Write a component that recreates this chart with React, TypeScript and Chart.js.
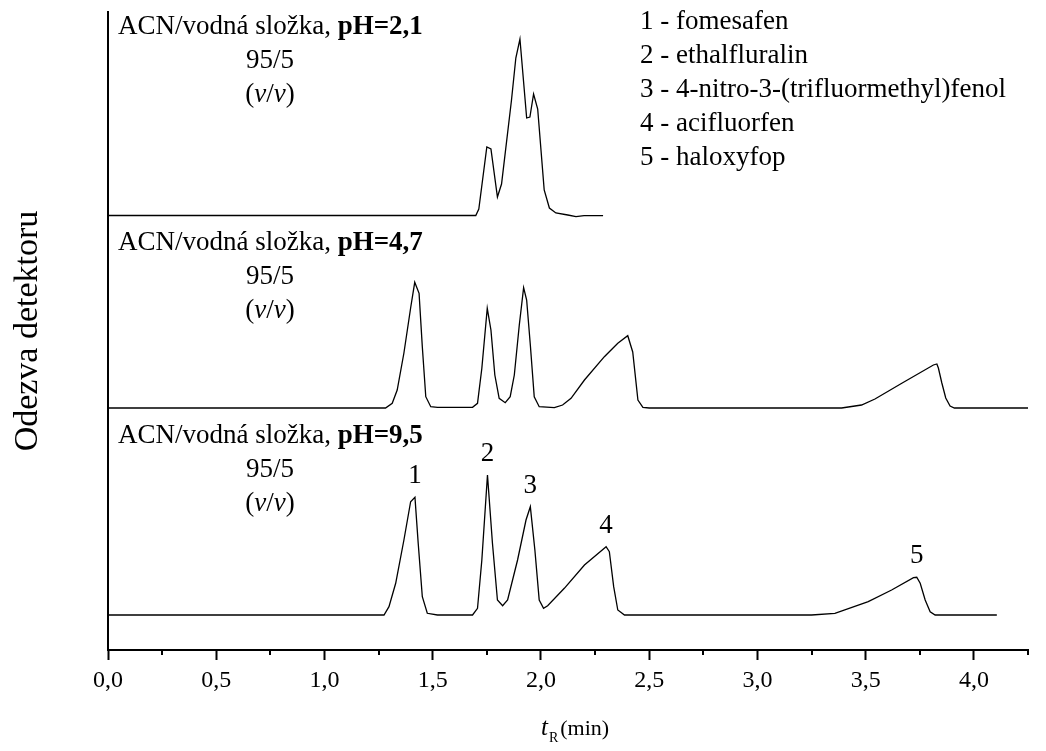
import React, { useEffect, useRef } from "react";
import { Chart, registerables } from "chart.js";

Chart.register(...registerables);

// Retention time (min) and detector response (arbitrary units, stacked traces)
const ph21Time = [0, 1.699, 1.713, 1.75, 1.769, 1.799, 1.818, 1.864, 1.884, 1.903, 1.934, 1.949, 1.966, 1.985, 2.015, 2.039, 2.069, 2.124, 2.162, 2.199, 2.287];
const ph21Signal = [434.5, 434.5, 441, 503, 501, 453, 466, 550, 592, 611, 532, 533, 556, 541, 460, 442, 437, 435, 433.3, 434.3, 434.3];

const ph47Time = [0, 1.282, 1.313, 1.336, 1.367, 1.398, 1.417, 1.437, 1.452, 1.468, 1.491, 1.522, 1.684, 1.707, 1.727, 1.752, 1.769, 1.787, 1.807, 1.835, 1.858, 1.877, 1.9, 1.92, 1.934, 1.951, 1.969, 1.992, 2.062, 2.1, 2.139, 2.201, 2.293, 2.355, 2.401, 2.424, 2.448, 2.471, 2.5, 3.389, 3.481, 3.543, 3.667, 3.813, 3.829, 3.836, 3.852, 3.87, 3.89, 3.91, 4.26];
const ph47Signal = [242, 242, 246.7, 260, 297, 342, 367.7, 356.7, 303.3, 253.3, 243.3, 242.7, 242.7, 246.7, 281.7, 341.7, 320, 275, 251.7, 247.3, 253.3, 275, 325, 362.3, 350, 305, 253.3, 243.3, 242.3, 245, 251.7, 270, 293.3, 306.7, 314.3, 298, 250, 242.7, 242, 242, 245, 251, 266.7, 285, 286, 282, 267, 252, 244, 242, 242];

const ph95Time = [0, 1.275, 1.298, 1.329, 1.367, 1.398, 1.418, 1.433, 1.452, 1.475, 1.522, 1.684, 1.707, 1.727, 1.753, 1.776, 1.799, 1.823, 1.846, 1.892, 1.931, 1.951, 1.972, 1.992, 2.012, 2.031, 2.108, 2.201, 2.301, 2.316, 2.336, 2.355, 2.386, 3.25, 3.358, 3.512, 3.62, 3.721, 3.736, 3.752, 3.775, 3.798, 3.821, 4.106];
const ph95Signal = [35, 35, 43.3, 66.7, 110, 148.3, 152.7, 106.7, 53.3, 36.7, 35, 35, 41.7, 90, 175, 106.7, 50, 44.3, 50, 90, 130, 143.3, 100, 50, 41.7, 44.3, 61.7, 85, 103.3, 98.3, 63.3, 40, 35, 35, 36.7, 48.3, 60, 72.3, 72.7, 66.7, 50, 38.3, 35, 35];

const peakNumbers = ["1", "2", "3", "4", "5"];
const peakTimes = [1.418, 1.753, 1.951, 2.301, 3.736];
const compounds = ["fomesafen", "ethalfluralin", "4-nitro-3-(trifluormethyl)fenol", "acifluorfen", "haloxyfop"];
const conditions = ["pH=2,1", "pH=4,7", "pH=9,5"];
const mobilePhase = "ACN/vodná složka, ";
const ratio = "95/5";

const SERIF = "'Liberation Serif', 'Times New Roman', serif";

type Seg = { t: string; f: string };

function drawRuns(ctx: CanvasRenderingContext2D, segs: Seg[], x: number, y: number, align: "left" | "center") {
  let total = 0;
  for (const s of segs) {
    ctx.font = s.f;
    total += ctx.measureText(s.t).width;
  }
  let cx = align === "center" ? x - total / 2 : x;
  ctx.textAlign = "left";
  for (const s of segs) {
    ctx.font = s.f;
    ctx.fillText(s.t, cx, y);
    cx += ctx.measureText(s.t).width;
  }
}

const textPlugin = {
  id: "textPlugin",
  afterDraw(chart: any) {
    const ctx: CanvasRenderingContext2D = chart.ctx;
    const xs = chart.scales.x;
    const ys = chart.scales.y;
    const reg = `27px ${SERIF}`;
    const bold = `bold 27px ${SERIF}`;
    const ital = `italic 27px ${SERIF}`;
    ctx.save();
    ctx.fillStyle = "#000";
    ctx.strokeStyle = "#000";
    ctx.textBaseline = "middle";

    // minor ticks
    ctx.lineWidth = 2;
    const yb = chart.chartArea.bottom;
    for (let v = 0.25; v <= 4.26; v += 0.5) {
      const px = Math.round(xs.getPixelForValue(v));
      ctx.beginPath();
      ctx.moveTo(px, yb);
      ctx.lineTo(px, yb + 5);
      ctx.stroke();
    }

    // condition blocks
    const blockY = [27, 243, 436];
    conditions.forEach((c, i) => {
      const y0 = blockY[i];
      drawRuns(ctx, [{ t: mobilePhase, f: reg }, { t: c, f: bold }], 118, y0, "left");
      drawRuns(ctx, [{ t: ratio, f: reg }], 270, y0 + 34, "center");
      drawRuns(
        ctx,
        [
          { t: "(", f: reg },
          { t: "v", f: ital },
          { t: "/", f: reg },
          { t: "v", f: ital },
          { t: ")", f: reg },
        ],
        270,
        y0 + 68,
        "center"
      );
    });

    // legend list
    compounds.forEach((c, i) => {
      drawRuns(ctx, [{ t: `${i + 1} - ${c}`, f: reg }], 640, 22 + i * 34, "left");
    });

    // peak numbers above pH 9,5 trace
    peakTimes.forEach((t, i) => {
      const idx = ph95Time.indexOf(t);
      const v = ph95Signal[idx];
      const px = xs.getPixelForValue(t);
      const py = ys.getPixelForValue(v) - 21;
      drawRuns(ctx, [{ t: peakNumbers[i], f: reg }], px, py, "center");
    });

    // x axis title
    ctx.textBaseline = "alphabetic";
    const tx = 541;
    const ty = 735;
    ctx.font = `italic 25px ${SERIF}`;
    ctx.fillText("t", tx, ty);
    const tw = ctx.measureText("t").width;
    ctx.font = `14px ${SERIF}`;
    ctx.fillText("R", tx + tw + 1, ty + 7);
    const rw = ctx.measureText("R").width;
    ctx.font = `22px ${SERIF}`;
    ctx.fillText("(min)", tx + tw + rw + 3, ty);
    ctx.restore();
  },
};

export default function App() {
  const ref = useRef<HTMLCanvasElement | null>(null);
  useEffect(() => {
    if (!ref.current) return;
    const mk = (t: number[], s: number[]) => t.map((x, i) => ({ x, y: s[i] }));
    const line = { borderColor: "#000", borderWidth: 1.3, pointRadius: 0, tension: 0, fill: false };
    const chart = new Chart(ref.current, {
      type: "line",
      data: {
        datasets: [
          { label: conditions[0], data: mk(ph21Time, ph21Signal), ...line },
          { label: conditions[1], data: mk(ph47Time, ph47Signal), ...line },
          { label: conditions[2], data: mk(ph95Time, ph95Signal), ...line },
        ],
      },
      options: {
        animation: false,
        responsive: false,
        layout: { padding: { top: 12, right: 18, left: 0, bottom: 0 } },
        plugins: { legend: { display: false }, tooltip: { enabled: false } },
        scales: {
          x: {
            type: "linear",
            min: 0,
            max: 4.25,
            afterFit: (s: any) => {
              s.height = 101;
            },
            ticks: {
              stepSize: 0.25,
              autoSkip: false,
              maxRotation: 0,
              color: "#000",
              padding: 6,
              font: { family: SERIF, size: 24 },
              callback: (v: any) => {
                const n = Number(v);
                return Math.abs(n * 2 - Math.round(n * 2)) < 1e-6 ? n.toFixed(1).replace(".", ",") : "";
              },
            },
            grid: {
              drawOnChartArea: false,
              drawTicks: true,
              tickLength: 10,
              tickWidth: 2,
              tickColor: (c: any) => {
                const n = c.tick ? c.tick.value : 0;
                return Math.abs(n * 2 - Math.round(n * 2)) < 1e-6 ? "#000" : "rgba(0,0,0,0)";
              },
            },
            border: { color: "#000", width: 2 },
          },
          y: {
            type: "linear",
            min: 0,
            max: 638,
            afterFit: (s: any) => {
              s.width = 108;
            },
            ticks: { display: false },
            grid: { display: false },
            border: { color: "#000", width: 2 },
            title: {
              display: true,
              text: "Odezva detektoru",
              color: "#000",
              font: { family: SERIF, size: 34 },
              padding: { top: 8, bottom: 0 },
            },
          },
        },
      },
      plugins: [textPlugin],
    } as any);
    return () => chart.destroy();
  }, []);
  return (
    <div style={{ position: "absolute", left: 0, top: 0, width: 1046, height: 751, background: "#fff" }}>
      <canvas ref={ref} width={1046} height={751} style={{ display: "block" }} />
    </div>
  );
}
